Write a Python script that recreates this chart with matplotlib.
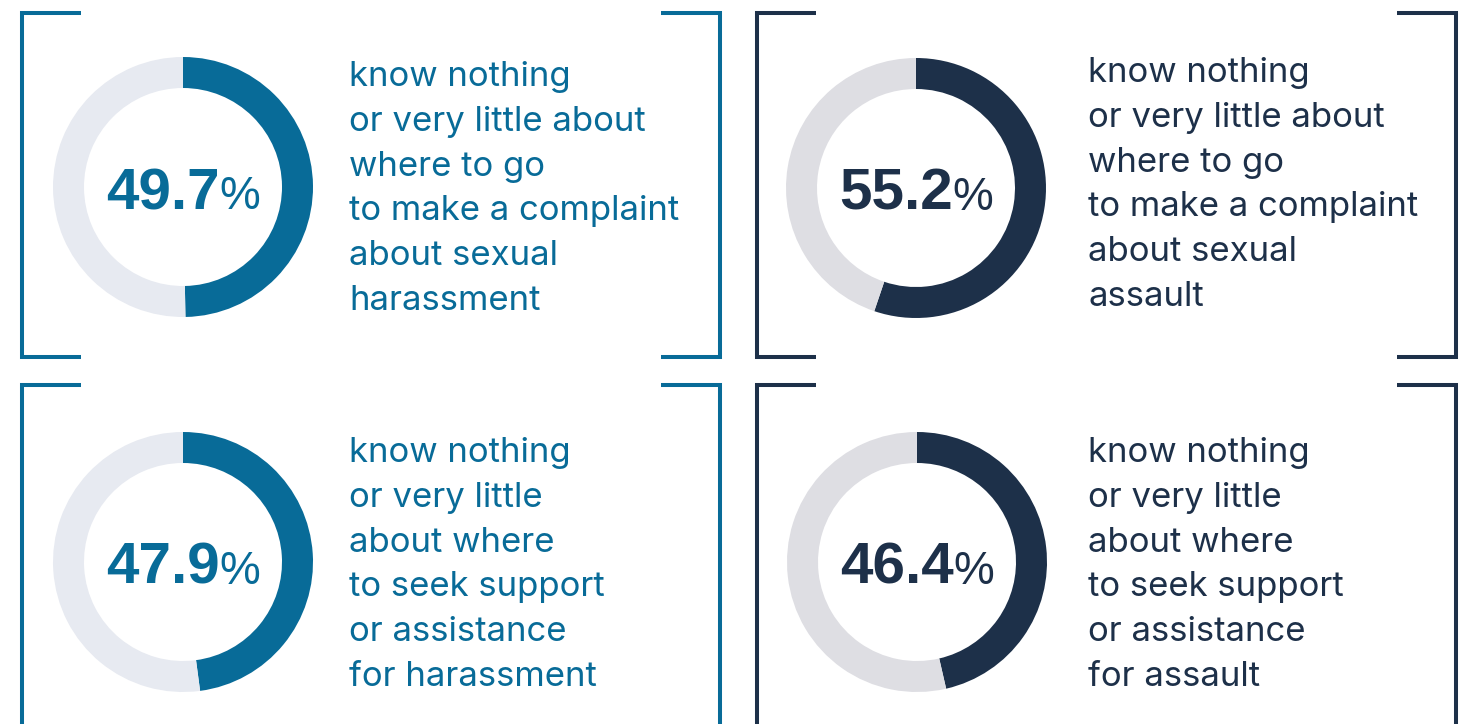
import matplotlib.pyplot as plt

# data
values = [49.7, 55.2, 47.9, 46.4]
labels = [
    ["know nothing", "or very little about", "where to go",
     "to make a complaint", "about sexual", "harassment"],
    ["know nothing", "or very little about", "where to go",
     "to make a complaint", "about sexual", "assault"],
    ["know nothing", "or very little", "about where",
     "to seek support", "or assistance", "for harassment"],
    ["know nothing", "or very little", "about where",
     "to seek support", "or assistance", "for assault"],
]
main_colors = ["#086b98", "#1d3049", "#086b98", "#1d3049"]
rest_colors = ["#e7eaf1", "#dedee3", "#e7eaf1", "#dedee3"]

# layout in pixel coordinates (y down)
centers = [(183, 187), (916, 188), (183, 562), (917, 562)]
radius = 130
ring_w = 31
text_x = [349, 1088, 349, 1088]
text_y0 = [86, 82, 462, 462]
line_h = 44.8
brackets = [  # left x, right x, top y, bottom y (None = runs off)
    (22, 720, 13, 357),
    (757, 1456, 13, 357),
    (22, 720, 385, None),
    (757, 1456, 385, None),
]
arm = 59

plt.rcParams['font.family'] = ['Inter', 'DejaVu Sans']

fig = plt.figure(figsize=(14.65, 7.24), dpi=100)
ax = fig.add_axes([0, 0, 1, 1])
ax.set_xlim(0, 1465)
ax.set_ylim(724, 0)
renderer = fig.canvas.get_renderer()

for i, v in enumerate(values):
    cx, cy = centers[i]
    ax.pie([v, 100 - v], center=(cx, cy), radius=radius,
           startangle=-90, counterclock=True,
           colors=[main_colors[i], rest_colors[i]],
           wedgeprops=dict(width=ring_w, linewidth=0))
    ax.set_xlim(0, 1465)
    ax.set_ylim(724, 0)

    # big number + smaller percent sign, centred in the ring
    base = cy + 22
    num = ax.text(cx, base, f"{v:.1f}", color=main_colors[i], fontsize=42,
                  fontweight='bold', family='Liberation Sans',
                  va='baseline', ha='left')
    pct = ax.text(cx, base, "%", color=main_colors[i], fontsize=33,
                  family='Liberation Sans', va='baseline', ha='left')
    w1 = num.get_window_extent(renderer).width
    w2 = pct.get_window_extent(renderer).width
    x0 = cx - (w1 + w2) / 2
    num.set_x(x0)
    pct.set_x(x0 + w1)

    for j, line in enumerate(labels[i]):
        ax.text(text_x[i], text_y0[i] + j * line_h, line, color=main_colors[i],
                fontsize=25, va='baseline', ha='left')

    xl, xr, yt, yb = brackets[i]
    yb2 = 740 if yb is None else yb
    for xb, sgn in [(xl, 1), (xr, -1)]:
        xs = [xb + sgn * arm, xb, xb]
        ys = [yt, yt, yb2]
        if yb is not None:
            xs.append(xb + sgn * arm)
            ys.append(yb)
        ax.plot(xs, ys, color=main_colors[i], lw=2.9,
                solid_joinstyle='miter', solid_capstyle='butt')

ax.set_aspect('auto')
ax.set_xlim(0, 1465)
ax.set_ylim(724, 0)
ax.axis('off')

fig.savefig("out.png", dpi=100)
